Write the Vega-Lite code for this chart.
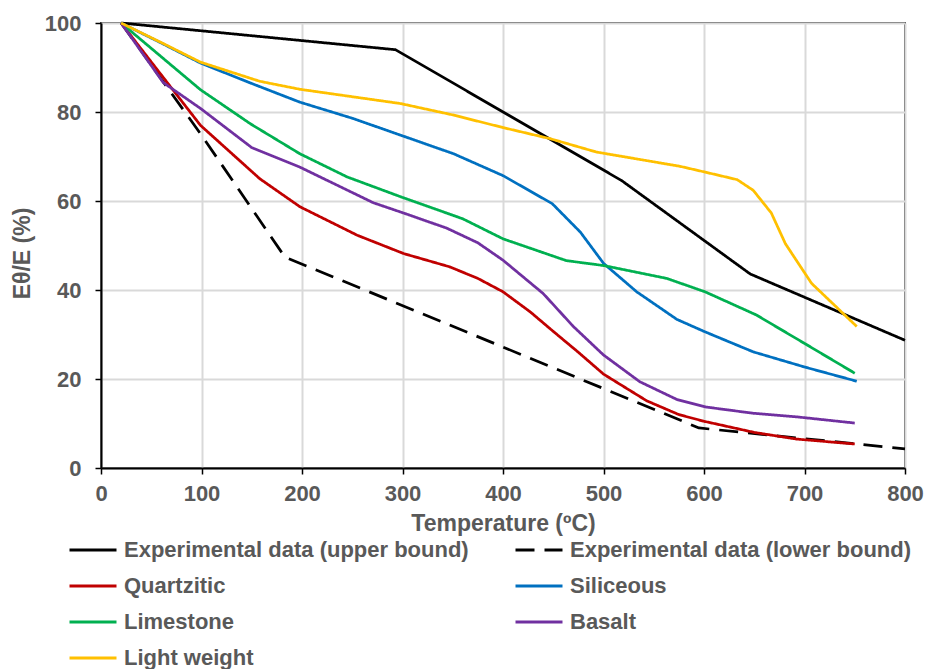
{
  "$schema": "https://vega.github.io/schema/vega-lite/v6.json",
  "width": 804,
  "height": 445,
  "autosize": {"type": "none"},
  "padding": {"left": 101, "top": 23, "right": 22, "bottom": 201},
  "background": "white",
  "data": {
    "values": [
      {"s": "Experimental data (upper bound)", "t": 20, "e": 100},
      {"s": "Experimental data (upper bound)", "t": 293, "e": 94},
      {"s": "Experimental data (upper bound)", "t": 518, "e": 64.6},
      {"s": "Experimental data (upper bound)", "t": 646, "e": 43.6},
      {"s": "Experimental data (upper bound)", "t": 800, "e": 28.7},

      {"s": "Experimental data (lower bound)", "t": 20, "e": 100},
      {"s": "Experimental data (lower bound)", "t": 100, "e": 74.8},
      {"s": "Experimental data (lower bound)", "t": 183, "e": 47.4},
      {"s": "Experimental data (lower bound)", "t": 595, "e": 9},
      {"s": "Experimental data (lower bound)", "t": 800, "e": 4.3},

      {"s": "Quartzitic", "t": 20, "e": 100},
      {"s": "Quartzitic", "t": 56, "e": 89.5},
      {"s": "Quartzitic", "t": 99, "e": 77},
      {"s": "Quartzitic", "t": 158, "e": 65},
      {"s": "Quartzitic", "t": 198, "e": 58.7},
      {"s": "Quartzitic", "t": 255, "e": 52.3},
      {"s": "Quartzitic", "t": 301, "e": 48.2},
      {"s": "Quartzitic", "t": 347, "e": 45.2},
      {"s": "Quartzitic", "t": 375, "e": 42.6},
      {"s": "Quartzitic", "t": 400, "e": 39.6},
      {"s": "Quartzitic", "t": 427, "e": 35.1},
      {"s": "Quartzitic", "t": 450, "e": 30.7},
      {"s": "Quartzitic", "t": 475, "e": 26},
      {"s": "Quartzitic", "t": 500, "e": 21.1},
      {"s": "Quartzitic", "t": 543, "e": 15.1},
      {"s": "Quartzitic", "t": 575, "e": 12},
      {"s": "Quartzitic", "t": 600, "e": 10.5},
      {"s": "Quartzitic", "t": 650, "e": 8},
      {"s": "Quartzitic", "t": 692, "e": 6.5},
      {"s": "Quartzitic", "t": 750, "e": 5.4},

      {"s": "Siliceous", "t": 20, "e": 100},
      {"s": "Siliceous", "t": 60, "e": 95.5},
      {"s": "Siliceous", "t": 99, "e": 91},
      {"s": "Siliceous", "t": 150, "e": 86.4},
      {"s": "Siliceous", "t": 198, "e": 82.2},
      {"s": "Siliceous", "t": 250, "e": 78.6},
      {"s": "Siliceous", "t": 298, "e": 74.8},
      {"s": "Siliceous", "t": 351, "e": 70.6},
      {"s": "Siliceous", "t": 400, "e": 65.7},
      {"s": "Siliceous", "t": 449, "e": 59.4},
      {"s": "Siliceous", "t": 477, "e": 53},
      {"s": "Siliceous", "t": 500, "e": 46},
      {"s": "Siliceous", "t": 533, "e": 39.6},
      {"s": "Siliceous", "t": 573, "e": 33.4},
      {"s": "Siliceous", "t": 601, "e": 30.6},
      {"s": "Siliceous", "t": 649, "e": 26.1},
      {"s": "Siliceous", "t": 700, "e": 22.7},
      {"s": "Siliceous", "t": 752, "e": 19.5},

      {"s": "Limestone", "t": 20, "e": 100},
      {"s": "Limestone", "t": 99, "e": 85},
      {"s": "Limestone", "t": 149, "e": 77.3},
      {"s": "Limestone", "t": 198, "e": 70.6},
      {"s": "Limestone", "t": 245, "e": 65.4},
      {"s": "Limestone", "t": 300, "e": 60.8},
      {"s": "Limestone", "t": 360, "e": 56},
      {"s": "Limestone", "t": 400, "e": 51.5},
      {"s": "Limestone", "t": 463, "e": 46.6},
      {"s": "Limestone", "t": 500, "e": 45.5},
      {"s": "Limestone", "t": 563, "e": 42.6},
      {"s": "Limestone", "t": 601, "e": 39.6},
      {"s": "Limestone", "t": 652, "e": 34.4},
      {"s": "Limestone", "t": 700, "e": 28},
      {"s": "Limestone", "t": 750, "e": 21.3},

      {"s": "Basalt", "t": 20, "e": 100},
      {"s": "Basalt", "t": 62, "e": 86.6},
      {"s": "Basalt", "t": 99, "e": 80.8},
      {"s": "Basalt", "t": 150, "e": 72},
      {"s": "Basalt", "t": 198, "e": 67.6},
      {"s": "Basalt", "t": 271, "e": 59.6},
      {"s": "Basalt", "t": 301, "e": 57.3},
      {"s": "Basalt", "t": 344, "e": 53.9},
      {"s": "Basalt", "t": 375, "e": 50.6},
      {"s": "Basalt", "t": 400, "e": 46.7},
      {"s": "Basalt", "t": 440, "e": 39.2},
      {"s": "Basalt", "t": 470, "e": 31.8},
      {"s": "Basalt", "t": 500, "e": 25.4},
      {"s": "Basalt", "t": 536, "e": 19.4},
      {"s": "Basalt", "t": 573, "e": 15.4},
      {"s": "Basalt", "t": 602, "e": 13.7},
      {"s": "Basalt", "t": 649, "e": 12.3},
      {"s": "Basalt", "t": 692, "e": 11.5},
      {"s": "Basalt", "t": 750, "e": 10.1},

      {"s": "Light weight", "t": 20, "e": 100},
      {"s": "Light weight", "t": 60, "e": 95.6},
      {"s": "Light weight", "t": 99, "e": 91.2},
      {"s": "Light weight", "t": 158, "e": 86.9},
      {"s": "Light weight", "t": 198, "e": 85.1},
      {"s": "Light weight", "t": 298, "e": 81.9},
      {"s": "Light weight", "t": 351, "e": 79.3},
      {"s": "Light weight", "t": 400, "e": 76.5},
      {"s": "Light weight", "t": 447, "e": 74},
      {"s": "Light weight", "t": 493, "e": 71},
      {"s": "Light weight", "t": 576, "e": 67.8},
      {"s": "Light weight", "t": 601, "e": 66.5},
      {"s": "Light weight", "t": 633, "e": 64.8},
      {"s": "Light weight", "t": 649, "e": 62.4},
      {"s": "Light weight", "t": 667, "e": 57.3},
      {"s": "Light weight", "t": 681, "e": 50.4},
      {"s": "Light weight", "t": 707, "e": 41.5},
      {"s": "Light weight", "t": 752, "e": 31.8}
    ]
  },
  "mark": {"type": "line", "strokeWidth": 2.75, "strokeJoin": "round", "strokeCap": "butt"},
  "encoding": {
    "x": {
      "field": "t",
      "type": "quantitative",
      "scale": {"domain": [0, 800], "nice": false},
      "axis": {
        "title": "Temperature (ºC)",
        "values": [0, 100, 200, 300, 400, 500, 600, 700, 800],
        "labelPadding": 9,
        "titlePadding": 8
      }
    },
    "y": {
      "field": "e",
      "type": "quantitative",
      "scale": {"domain": [0, 100], "nice": false},
      "axis": {
        "title": "Eθ/E (%)",
        "values": [0, 20, 40, 60, 80, 100],
        "labelPadding": 14,
        "titlePadding": 10,
        "titleY": 230
      }
    },
    "color": {
      "field": "s",
      "type": "nominal",
      "title": null,
      "scale": {
        "domain": [
          "Experimental data (upper bound)",
          "Experimental data (lower bound)",
          "Quartzitic",
          "Siliceous",
          "Limestone",
          "Basalt",
          "Light weight"
        ],
        "range": ["#000000", "#000000", "#C00000", "#0070C0", "#00B050", "#7030A0", "#FFC000"]
      }
    },
    "strokeDash": {
      "field": "s",
      "type": "nominal",
      "title": null,
      "scale": {
        "domain": [
          "Experimental data (upper bound)",
          "Experimental data (lower bound)",
          "Quartzitic",
          "Siliceous",
          "Limestone",
          "Basalt",
          "Light weight"
        ],
        "range": [[1, 0], [19, 10], [1, 0], [1, 0], [1, 0], [1, 0], [1, 0]]
      }
    }
  },
  "config": {
    "font": "Liberation Sans",
    "view": {"stroke": "#404040", "strokeWidth": 2},
    "axis": {
      "grid": true,
      "gridColor": "#d9d9d9",
      "gridWidth": 2,
      "domainColor": "#000000",
      "domainWidth": 2,
      "tickColor": "#000000",
      "tickWidth": 1.5,
      "tickSize": 6,
      "labelFont": "Liberation Sans",
      "labelFontSize": 22,
      "labelFontWeight": "bold",
      "labelColor": "#595959",
      "titleFont": "Liberation Sans",
      "titleFontSize": 23,
      "titleFontWeight": "bold",
      "titleColor": "#595959",
      "labelFlush": false,
      "labelOverlap": false
    },
    "legend": {
      "orient": "none",
      "direction": "horizontal",
      "legendX": -33,
      "legendY": 502,
      "columns": 2,
      "columnPadding": 40,
      "rowPadding": -14.5,
      "symbolType": "stroke",
      "symbolSize": 2209,
      "symbolStrokeWidth": 3,
      "labelFont": "Liberation Sans",
      "labelFontSize": 22,
      "labelFontWeight": "bold",
      "labelColor": "#595959",
      "labelOffset": 6,
      "labelLimit": 600
    }
  }
}
